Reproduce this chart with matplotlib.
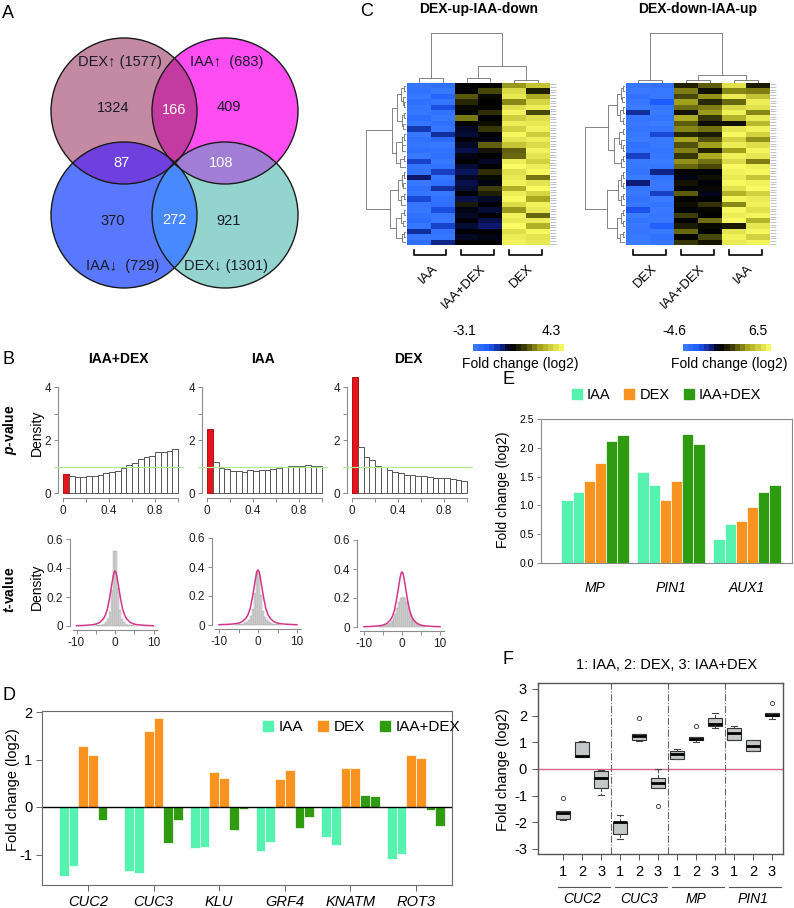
import numpy as np
import matplotlib
matplotlib.use("Agg")
import matplotlib.pyplot as plt
from matplotlib.patches import Circle
from matplotlib.lines import Line2D
from matplotlib.colors import LinearSegmentedColormap, TwoSlopeNorm
from matplotlib.transforms import blended_transform_factory

plt.rcParams["font.family"] = ["Liberation Sans", "DejaVu Sans"]
plt.rcParams["mathtext.fontset"] = "custom"
plt.rcParams["mathtext.it"] = "Liberation Sans:italic:bold"
plt.rcParams["axes.unicode_minus"] = False

# ---------------- data ----------------
# A: Venn diagram (DEX up, IAA up, IAA down, DEX down)
venn_titles = ["DEX↑ (1577)", "IAA↑  (683)", "IAA↓  (729)", "DEX↓ (1301)"]
venn_only = [1324, 409, 370, 921]
venn_pairs = [166, 87, 108, 272]  # DEX↑&IAA↑, DEX↑&IAA↓, IAA↑&DEX↓, IAA↓&DEX↓

# B: p-value histograms (20 bins of 0.05)
p_iaadex = [0.72, 0.65, 0.61, 0.61, 0.65, 0.66, 0.69, 0.75, 0.79, 0.83,
            0.95, 1.04, 1.14, 1.27, 1.37, 1.40, 1.54, 1.56, 1.58, 1.66]
p_iaa = [2.40, 1.18, 0.95, 0.90, 0.82, 0.82, 0.78, 0.85, 0.83, 0.86,
         0.86, 0.91, 0.93, 0.98, 1.02, 1.02, 1.03, 1.05, 1.03, 1.02]
p_dex = [4.38, 1.73, 1.35, 1.25, 1.03, 1.00, 0.88, 0.81, 0.75, 0.69,
         0.68, 0.63, 0.63, 0.60, 0.56, 0.56, 0.56, 0.53, 0.50, 0.44]
hist_titles = ["IAA+DEX", "IAA", "DEX"]

# B: t-value histograms (bins of 0.5 from -6 to 6) and reference density curve
t_iaadex = [0.002, 0.003, 0.004, 0.005, 0.007, 0.010, 0.015, 0.025, 0.05, 0.10, 0.25, 0.52,
            0.52, 0.26, 0.11, 0.05, 0.025, 0.015, 0.010, 0.007, 0.005, 0.004, 0.003, 0.002]
t_iaa = [0.003, 0.004, 0.005, 0.007, 0.010, 0.015, 0.022, 0.035, 0.06, 0.11, 0.22, 0.37,
         0.36, 0.21, 0.10, 0.055, 0.032, 0.020, 0.014, 0.010, 0.007, 0.005, 0.004, 0.003]
t_dex = [0.005, 0.007, 0.010, 0.014, 0.020, 0.028, 0.040, 0.06, 0.09, 0.13, 0.17, 0.20,
         0.21, 0.20, 0.17, 0.13, 0.09, 0.06, 0.040, 0.028, 0.020, 0.014, 0.010, 0.007]
t_curve_x = [-10, -8, -6, -5, -4, -3, -2.5, -2, -1.5, -1, -0.75, -0.5, -0.25, 0,
             0.25, 0.5, 0.75, 1, 1.5, 2, 2.5, 3, 4, 5, 6, 8, 10]
t_curve_y = [0.002, 0.004, 0.008, 0.013, 0.024, 0.05, 0.075, 0.115, 0.18, 0.26, 0.30, 0.34,
             0.37, 0.38, 0.37, 0.34, 0.30, 0.26, 0.18, 0.115, 0.075, 0.05, 0.024, 0.013,
             0.008, 0.004, 0.002]

# C: heatmaps, log2 fold change per replicate column (30 rows shown)
up_iaa_1 = [-2.8, -2.7, -2.9, -2.6, -2.8, -2.9, -2.5, -2.8, -1.2, -2.9, -2.7, -2.8, -2.6, -2.9, -1.4,
            -2.8, -2.7, -0.6, -2.9, -2.6, -2.8, -1.5, -2.8, -2.9, -2.7, -2.5, -2.8, -1.0, -2.9, -2.6]
up_iaa_2 = [-2.6, -2.9, -2.2, -2.8, -1.6, -2.7, -2.9, -2.6, -2.8, -1.0, -2.4, -2.9, -2.7, -2.6, -2.9,
            -2.7, -1.3, -2.8, -2.6, -1.1, -2.9, -2.7, -2.6, -1.6, -2.8, -2.9, -1.4, -2.7, -2.8, -0.8]
up_iad_1 = [0.1, 0.0, 1.4, 0.8, 0.2, 0.0, 1.8, 0.1, -0.2, -0.3, 0.0, -0.2, -0.4, -0.1, 0.0,
            -0.3, -0.5, -0.2, -0.4, -0.3, 0.0, -0.4, 0.5, -0.1, -0.2, 0.0, -0.3, 0.0, -0.2, 0.0]
up_iad_2 = [0.0, 1.2, 0.2, 0.0, 0.1, 0.9, 0.0, 0.3, 1.0, 0.0, -0.1, 1.5, 0.4, 0.0, -0.2,
            0.0, 0.9, 0.2, -0.1, 1.1, 0.6, -0.2, 0.0, -0.3, 0.0, -0.4, -0.6, 0.0, -0.1, 0.0]
up_dex_1 = [2.2, 3.5, 3.8, 2.0, 3.6, 4.0, 3.2, 3.9, 3.3, 4.1, 3.7, 3.0, 1.5, 1.6, 3.9,
            4.2, 3.6, 3.8, 4.0, 2.6, 3.9, 4.1, 3.5, 2.2, 4.0, 3.8, 4.2, 3.6, 3.9, 4.0]
up_dex_2 = [3.0, 0.6, 2.5, 3.4, 3.9, 1.2, 3.6, 3.8, 4.0, 3.2, 3.9, 3.5, 4.0, 3.7, 3.3,
            3.9, 4.1, 1.8, 3.7, 4.2, 3.4, 2.4, 4.0, 3.8, 1.6, 3.9, 2.6, 4.1, 3.7, 3.8]

dn_dex_1 = [-4.2, -4.4, -4.0, -4.3, -4.5, -1.5, -4.2, -4.4, -4.1, -4.3, -4.5, -4.0, -4.2, -2.0, -4.4,
            -4.3, -4.1, -4.5, -1.0, -4.2, -4.4, -4.0, -4.3, -2.5, -4.5, -4.1, -4.4, -4.2, -4.3, -4.5]
dn_dex_2 = [-4.0, -4.3, -4.4, -2.8, -4.2, -4.4, -4.1, -4.5, -4.2, -2.2, -4.3, -4.4, -4.1, -4.3, -4.5,
            -4.2, -1.2, -4.0, -4.4, -4.3, -2.0, -4.5, -4.1, -4.4, -4.2, -4.3, -3.0, -4.4, -4.0, -4.2]
dn_iad_1 = [1.0, 2.8, 1.8, 3.5, 2.5, 0.6, 3.8, 2.2, 3.0, 1.2, 3.6, 2.0, 2.9, 1.5, 3.2,
            2.4, 0.2, -0.2, 0.6, 0.0, 2.2, 0.1, 0.4, -0.1, 1.6, 0.0, 0.8, 2.4, 0.2, 1.5]
dn_iad_2 = [2.2, 0.5, 3.2, 1.2, 2.8, 3.4, 1.5, 0.4, 2.6, 0.8, 2.0, 3.5, 1.0, 3.8, 2.6,
            1.8, 0.1, 0.5, -0.1, 0.3, -0.2, 0.0, 1.4, 0.2, 0.0, 2.5, 0.3, 0.0, 1.8, 0.6]
dn_iaa_1 = [5.5, 3.0, 5.8, 2.4, 5.2, 6.0, 4.0, 0.5, 5.6, 6.2, 5.0, 5.9, 3.5, 6.0, 5.3,
            6.3, 6.0, 5.8, 6.2, 5.5, 4.0, 6.1, 3.0, 6.2, 5.9, 6.3, 0.8, 5.6, 6.0, 5.8]
dn_iaa_2 = [0.8, 2.8, 4.5, 5.9, 5.5, 3.0, 5.8, 4.2, 6.0, 5.0, 3.2, 5.4, 6.1, 5.7, 2.8,
            5.9, 6.2, 4.6, 6.0, 6.3, 5.0, 5.8, 6.0, 5.5, 6.1, 4.0, 5.7, 6.2, 5.0, 6.1]

# dendrograms as nested (height, left, right); leaves are row / column indices
up_row_tree = (1.0,
               (0.34,
                (0.22, (0.12, (0.06, 0, 1), (0.08, 2, (0.04, 3, 4))), (0.10, (0.05, 5, 6), (0.07, 7, 8))),
                (0.25, (0.11, (0.06, 9, 10), (0.09, 11, 12)), (0.14, (0.05, 13, 14), 15))),
               (0.41,
                (0.20, (0.10, (0.04, 16, 17), (0.07, 18, 19)), (0.12, (0.06, 20, 21), 22)),
                (0.24, (0.13, (0.05, 23, 24), (0.08, 25, 26)), (0.10, (0.06, 27, 28), 29))))
dn_row_tree = (1.0,
               (0.42,
                (0.20, (0.10, (0.05, 0, 1), (0.07, 2, 3)), (0.12, (0.06, 4, 5), (0.04, 6, 7))),
                (0.28, (0.14, (0.06, 8, 9), (0.09, 10, (0.05, 11, 12))), (0.10, (0.05, 13, 14), 15))),
               (0.46,
                (0.18, (0.09, (0.05, 16, 17), (0.06, 18, 19)), (0.11, (0.04, 20, 21), 22)),
                (0.21, (0.10, (0.06, 23, 24), (0.05, 25, 26)), (0.12, (0.05, 27, 28), 29))))
up_col_tree = (1.0, (0.10, 0, 1), (0.34, (0.10, 2, 3), (0.06, 4, 5)))
dn_col_tree = (1.0, (0.06, 0, 1), (0.16, (0.06, 2, 3), (0.05, 4, 5)))
up_labels = ["IAA", "IAA+DEX", "DEX"]
dn_labels = ["DEX", "IAA+DEX", "IAA"]
up_range = (-3.1, 4.3)
dn_range = (-4.6, 6.5)

# D: fold change of boundary genes, two replicates per treatment
d_genes = ["CUC2", "CUC3", "KLU", "GRF4", "KNATM", "ROT3"]
d_iaa_1 = [-1.45, -1.34, -0.87, -0.92, -0.64, -1.09]
d_iaa_2 = [-1.24, -1.39, -0.85, -0.74, -0.81, -0.99]
d_dex_1 = [1.29, 1.60, 0.73, 0.59, 0.82, 1.09]
d_dex_2 = [1.10, 1.87, 0.62, 0.78, 0.82, 1.03]
d_iad_1 = [-0.28, -0.76, -0.49, -0.44, 0.26, -0.06]
d_iad_2 = [-0.01, -0.28, -0.05, -0.20, 0.23, -0.41]

# E: auxin genes
e_genes = ["MP", "PIN1", "AUX1"]
e_iaa_1 = [1.10, 1.58, 0.42]
e_iaa_2 = [1.23, 1.36, 0.68]
e_dex_1 = [1.43, 1.10, 0.73]
e_dex_2 = [1.73, 1.43, 0.98]
e_iad_1 = [2.11, 2.24, 1.23]
e_iad_2 = [2.22, 2.07, 1.36]

# F: box statistics (1: IAA, 2: DEX, 3: IAA+DEX per gene)
f_genes = ["CUC2", "CUC3", "MP", "PIN1"]
f_med = [-1.66, 0.47, -0.33, -2.00, 1.23, -0.51, 0.57, 1.12, 1.70, 1.35, 0.85, 2.03]
f_q1 = [-1.87, 0.44, -0.73, -2.44, 1.08, -0.70, 0.38, 1.07, 1.60, 1.10, 0.69, 1.98]
f_q3 = [-1.56, 1.00, -0.08, -1.97, 1.32, -0.32, 0.66, 1.20, 1.92, 1.54, 1.10, 2.10]
f_lo = [-1.90, 0.44, -0.96, -2.63, 1.06, -0.70, 0.38, 1.00, 1.54, 1.10, 0.66, 1.88]
f_hi = [-1.56, 1.04, -0.05, -1.72, 1.32, 0.00, 0.75, 1.20, 2.10, 1.60, 1.10, 2.10]
f_fliers = [[-1.07], [], [], [], [1.92], [-1.40], [], [1.63], [], [], [], [2.48]]

c_iaa = "#55f2b0"
c_dex = "#f7931e"
c_iad = "#2e9b10"

# ---------------- figure helpers ----------------
W, H = 794, 908
fig = plt.figure(figsize=(W / 100, H / 100), dpi=100)


def px_rect(l, t, r, b):
    return [l / W, 1 - b / H, (r - l) / W, (b - t) / H]


def ftext(x, y, s, **kw):
    fig.text(x / W, 1 - y / H, s, **kw)


def axes_map(l, t, r, b, xref, yref):
    # axes at a pixel box, with limits chosen so reference values land on given pixels
    ax = fig.add_axes(px_rect(l, t, r, b))
    (xa, pa), (xb, pb) = xref
    sx = (pb - pa) / (xb - xa)
    ax.set_xlim(xa + (l - pa) / sx, xa + (r - pa) / sx)
    (ya, qa), (yb, qb) = yref
    sy = (qb - qa) / (yb - ya)
    ax.set_ylim(ya + (b - qa) / sy, ya + (t - qa) / sy)
    return ax


def r_axis(ax, xpos, ypos, xb, yb):
    for s in ["top", "right"]:
        ax.spines[s].set_visible(False)
    ax.spines["left"].set_position(("data", xpos))
    ax.spines["left"].set_bounds(*yb)
    ax.spines["bottom"].set_position(("data", ypos))
    ax.spines["bottom"].set_bounds(*xb)
    for s in ["left", "bottom"]:
        ax.spines[s].set_color("#8c8c8c")
        ax.spines[s].set_linewidth(0.8)
    ax.tick_params(colors="#8c8c8c", labelcolor="#222222", labelsize=8.5,
                   length=3, width=0.7, pad=2)


def draw_tree(ax, node, top):
    if isinstance(node, int):
        return node, 0.0
    h, a, b = node
    pa, ha = draw_tree(ax, a, top)
    pb, hb = draw_tree(ax, b, top)
    if top:
        ax.plot([pa, pa, pb, pb], [ha, h, h, hb], color="#707070", lw=0.6)
    else:
        ax.plot([ha, h, h, hb], [pa, pa, pb, pb], color="#707070", lw=0.6)
    return (pa + pb) / 2, h


# ---------------- A: Venn ----------------
ax = fig.add_axes(px_rect(0, 0, 340, 300))
ax.set_xlim(0, 340)
ax.set_ylim(300, 0)
ax.axis("off")
R = 73
centers = [(124, 111), (225, 111), (124, 215), (225, 215)]
base_cols = ["#c48aa4", "#ff4df2", "#5a78ff", "#93d5ce"]
pair_idx = [(0, 1), (0, 2), (1, 3), (2, 3)]
pair_cols = ["#c33aa0", "#6f40de", "#a17dd6", "#4989ff"]
for c, col in zip(centers, base_cols):
    ax.add_patch(Circle(c, R, fc=col, ec="none"))
for (i, j), col in zip(pair_idx, pair_cols):
    clip = Circle(centers[i], R, transform=ax.transData)
    p = Circle(centers[j], R, fc=col, ec="none")
    ax.add_patch(p)
    p.set_clip_path(clip)
for c in centers:
    ax.add_patch(Circle(c, R, fill=False, ec="#1a1a1a", lw=1.0))

title_pos = [(120, 62), (227, 62), (123, 266), (226, 266)]
for (x, y), s in zip(title_pos, venn_titles):
    ax.text(x, y, s, ha="center", va="center", fontsize=10.5, color="#1a1a2a")
only_off = [(-11, -3), (4, -4), (-11, 6), (4, 6)]
for c, (dx, dy), n in zip(centers, only_off, venn_only):
    ax.text(c[0] + dx, c[1] + dy, str(n), ha="center", va="center", fontsize=10.5,
            color="#1a1a2a")
pair_off = [(0, -1), (-3, 0), (-4, 0), (0, 5)]
for (i, j), (dx, dy), n in zip(pair_idx, pair_off, venn_pairs):
    mx = (centers[i][0] + centers[j][0]) / 2 + dx
    my = (centers[i][1] + centers[j][1]) / 2 + dy
    ax.text(mx, my, str(n), ha="center", va="center", fontsize=10.5, color="white")

# ---------------- B: histograms ----------------
p_zero_px = [63, 207, 352]
title_x = [118, 263, 408]
for x0, vals, title, tx in zip(p_zero_px, [p_iaadex, p_iaa, p_dex], hist_titles, title_x):
    ax = axes_map(x0 - 9, 372, x0 + 121, 501, ((0, x0), (1, x0 + 115)), ((0, 493), (4, 387)))
    lefts = np.arange(len(vals)) * 0.05
    fcs = ["#e8141c"] + ["white"] * (len(vals) - 1)
    ecs = ["#b01010"] + ["#555555"] * (len(vals) - 1)
    ax.bar(lefts, vals, width=0.05, align="edge", color=fcs, edgecolor=ecs, lw=0.7)
    ax.axhline(1, color="#b5e890", lw=0.9, zorder=3)
    r_axis(ax, -0.043, -0.19, (0, 1), (0, 4))
    ax.set_xticks([0, 0.2, 0.4, 0.6, 0.8, 1.0], ["0", "", "0.4", "", "0.8", ""])
    ax.set_yticks([0, 1, 2, 3, 4], ["0", "", "2", "", "4"])
    ftext(tx, 359, title, ha="center", va="center", fontsize=10, fontweight="bold")

t_zero_px = [115, 258, 402]
t_scale = [3.85, 3.9, 3.8]
t_zero_py = [626, 625, 627]
t_lefts = np.arange(-6, 6, 0.5)
for z, s, y0, vals in zip(t_zero_px, t_scale, t_zero_py, [t_iaadex, t_iaa, t_dex]):
    ax = axes_map(z - 50, 530, z + 48, 634, ((0, z), (10, z + 10 * s)), ((0, y0), (0.6, y0 - 87)))
    ax.bar(t_lefts, vals, width=0.5, align="edge", color="#d6d6d6", edgecolor="#a0a0a0", lw=0.3)
    ax.plot(t_curve_x, t_curve_y, color="#d4358a", lw=1.1)
    r_axis(ax, -11.8, -0.028, (-11, 11), (0, 0.6))
    ax.set_xticks([-10, -5, 0, 5, 10], ["-10", "", "0", "", "10"])
    ax.set_yticks([0, 0.2, 0.4, 0.6], ["0", "0.2", "0.4", "0.6"])

ftext(10, 430, r"$p$-value", rotation=90, ha="center", va="center", fontsize=10,
      fontweight="bold")
ftext(37, 433, "Density", rotation=90, ha="center", va="center", fontsize=10)
ftext(10, 590, r"$t$-value", rotation=90, ha="center", va="center", fontsize=10,
      fontweight="bold")
ftext(37, 587, "Density", rotation=90, ha="center", va="center", fontsize=10)

# ---------------- C: heatmaps ----------------
hm_cmap = LinearSegmentedColormap.from_list(
    "byk", [(0.0, "#3d7dff"), (0.2, "#1f5cff"), (0.4, "#0c1a70"), (0.5, "#000000"),
            (0.6, "#2c2c00"), (0.78, "#a8a820"), (1.0, "#ffff66")])


def draw_heat(l, r, cols, row_tree, col_tree, labels, vrange, title, cb_l, cb_r):
    mat = np.column_stack(cols)
    norm = TwoSlopeNorm(vcenter=0, vmin=vrange[0], vmax=vrange[1])
    ax = fig.add_axes(px_rect(l, 83, r, 245))
    ax.imshow(mat, aspect="auto", cmap=hm_cmap, norm=norm, interpolation="nearest")
    ax.set_xticks([])
    ax.yaxis.tick_right()
    ax.set_yticks(np.arange(-0.25, mat.shape[0], 0.5), [])
    ax.tick_params(axis="y", length=4, width=0.4, color="#8a96aa")
    for sp in ax.spines.values():
        sp.set_visible(False)
    tr = blended_transform_factory(ax.transData, ax.transAxes)
    for k, lab in enumerate(labels):
        x0, x1 = 2 * k - 0.22, 2 * k + 1.15
        ax.plot([x0, x0, x1, x1], [-0.03, -0.062, -0.062, -0.03], transform=tr,
                color="black", lw=1.2, clip_on=False)
        ax.text(2 * k + 0.7, -0.135, lab, transform=tr, rotation=45, ha="right",
                va="center", rotation_mode="anchor", fontsize=9.5)

    dc = fig.add_axes(px_rect(l, 31, r, 83))
    draw_tree(dc, col_tree, True)
    dc.set_xlim(-0.5, mat.shape[1] - 0.5)
    dc.set_ylim(0, 1.03)
    dc.axis("off")

    dr = fig.add_axes(px_rect(l - 42, 83, l - 1, 245))
    draw_tree(dr, row_tree, False)
    dr.set_ylim(mat.shape[0] - 0.5, -0.5)
    dr.set_xlim(1.03, 0)
    dr.axis("off")

    cax = fig.add_axes(px_rect(cb_l, 344, cb_r, 351))
    edges = np.linspace(vrange[0], vrange[1], 18)
    cax.pcolormesh(edges, [0, 1], ((edges[:-1] + edges[1:]) / 2)[None, :],
                   cmap=hm_cmap, norm=norm)
    cax.axis("off")
    ftext(cb_l - 9, 331, f"{vrange[0]}", ha="center", va="center", fontsize=10)
    ftext(cb_r - 13, 331, f"{vrange[1]}", ha="center", va="center", fontsize=10)
    ftext((cb_l + cb_r) / 2 + 2, 364, "Fold change (log2)", ha="center", va="center",
          fontsize=10)
    ftext((l + r) / 2, 9, title, ha="center", va="center", fontsize=10, fontweight="bold")


draw_heat(407, 550, [up_iaa_1, up_iaa_2, up_iad_1, up_iad_2, up_dex_1, up_dex_2],
          up_row_tree, up_col_tree, up_labels, up_range, "DEX-up-IAA-down", 473, 564)
draw_heat(626, 770, [dn_dex_1, dn_dex_2, dn_iad_1, dn_iad_2, dn_iaa_1, dn_iaa_2],
          dn_row_tree, dn_col_tree, dn_labels, dn_range, "DEX-down-IAA-up", 683, 771)


def legend_handles():
    return [Line2D([], [], marker="s", ls="", markersize=7.5, color=c, mec=c)
            for c in (c_iaa, c_dex, c_iad)]


def grouped_bars(ax, series, bw):
    x = np.arange(len(series[0][0]))
    for k, (vals, col) in enumerate(series):
        ax.bar(x + (k - 2.5) * bw, vals, bw, color=col, edgecolor="white", lw=0.5)
    return x


# ---------------- D ----------------
ax = axes_map(42, 711, 452, 885, ((0, 88), (5, 416)), ((0, 807), (2, 712)))
x = grouped_bars(ax, [(d_iaa_1, c_iaa), (d_iaa_2, c_iaa), (d_dex_1, c_dex),
                      (d_dex_2, c_dex), (d_iad_1, c_iad), (d_iad_2, c_iad)], 0.148)
ax.axhline(0, color="black", lw=1)
ax.set_xticks(x, d_genes, fontstyle="italic", fontsize=10.5)
ax.set_yticks([-1, 0, 1, 2])
for sp in ax.spines.values():
    sp.set_color("#6a6a6a")
    sp.set_linewidth(0.8)
ax.tick_params(labelsize=10.5, length=4, width=0.7, color="#6a6a6a", pad=3)
ftext(13, 790, "Fold change (log2)", rotation=90, ha="center", va="center", fontsize=10.5)
fig.legend(legend_handles(), ["IAA", "DEX", "IAA+DEX"], loc="center",
           bbox_to_anchor=(361 / W, 1 - 727 / H), ncol=3, frameon=False, fontsize=11,
           handlelength=0.8, handletextpad=0.3, columnspacing=0.9)

# ---------------- E ----------------
ax = axes_map(541, 419, 792, 563, ((0, 595), (2, 747)), ((0, 563), (2.5, 419)))
x = grouped_bars(ax, [(e_iaa_1, c_iaa), (e_iaa_2, c_iaa), (e_dex_1, c_dex),
                      (e_dex_2, c_dex), (e_iad_1, c_iad), (e_iad_2, c_iad)], 0.147)
ax.set_xticks(x, e_genes, fontstyle="italic", fontsize=10)
ax.set_yticks([0, 0.5, 1.0, 1.5, 2.0, 2.5], ["0.0", "0.5", "1.0", "1.5", "2.0", "2.5"])
for sp in ax.spines.values():
    sp.set_color("#8a8a8a")
    sp.set_linewidth(0.8)
ax.tick_params(axis="y", labelsize=7.5, length=3, width=0.7, color="#8a8a8a", pad=2)
ax.tick_params(axis="x", length=0, pad=13)
ftext(503, 490, "Fold change (log2)", rotation=90, ha="center", va="center", fontsize=10)
fig.legend(legend_handles(), ["IAA", "DEX", "IAA+DEX"], loc="center",
           bbox_to_anchor=(666 / W, 1 - 395 / H), ncol=3, frameon=False, fontsize=10.5,
           handlelength=0.8, handletextpad=0.3, columnspacing=0.9)

# ---------------- F ----------------
ax = axes_map(538, 683, 783, 854, ((1, 563), (12, 772)), ((0, 769), (3, 689)))
stats = [dict(med=m, q1=a, q3=b, whislo=lo, whishi=hi, fliers=fl)
         for m, a, b, lo, hi, fl in zip(f_med, f_q1, f_q3, f_lo, f_hi, f_fliers)]
ax.axhline(0, color="#d9668a", lw=1, zorder=0.5)
for xv in (3.5, 6.5, 9.5):
    ax.axvline(xv, color="#666666", ls="-.", lw=0.8, zorder=0.5)
ax.bxp(stats, positions=range(1, 13), widths=0.78, capwidths=0.35, patch_artist=True,
       boxprops=dict(facecolor="#c3c8c8", edgecolor="#333333", lw=0.8),
       medianprops=dict(color="black", lw=2),
       whiskerprops=dict(ls="--", lw=0.7, color="#444444"),
       capprops=dict(lw=0.8, color="#444444"),
       flierprops=dict(marker="o", markersize=3, mfc="none", mec="#333333", mew=0.6))
ax.set_xlim(-0.32, 12.58)
ax.set_xticks(range(1, 13), ["1", "2", "3"] * len(f_genes))
ax.set_yticks([-3, -2, -1, 0, 1, 2, 3])
for sp in ax.spines.values():
    sp.set_color("#555555")
    sp.set_linewidth(1.0)
ax.tick_params(labelsize=10.5, length=4, width=0.7, color="#555555", pad=4)
tr = blended_transform_factory(ax.transData, ax.transAxes)
for g, name in enumerate(f_genes):
    ax.plot([3 * g + 0.75, 3 * g + 3.45], [-0.193, -0.193], transform=tr, color="#555555",
            lw=0.8, clip_on=False)
    ax.text(3 * g + 2, -0.262, name, transform=tr, ha="center", va="center",
            fontstyle="italic", fontsize=10)
ftext(667, 665, "1: IAA, 2: DEX, 3: IAA+DEX", ha="center", va="center", fontsize=10.5)
ftext(503, 770, "Fold change (log2)", rotation=90, ha="center", va="center", fontsize=10.5)

# ---------------- panel letters ----------------
for s, (x, y) in zip("ABCDEF", [(2, 13), (2, 359), (360, 12), (2, 695), (502, 379), (502, 660)]):
    ftext(x, y, s, ha="left", va="center", fontsize=13)

fig.savefig("out.png", dpi=100)
